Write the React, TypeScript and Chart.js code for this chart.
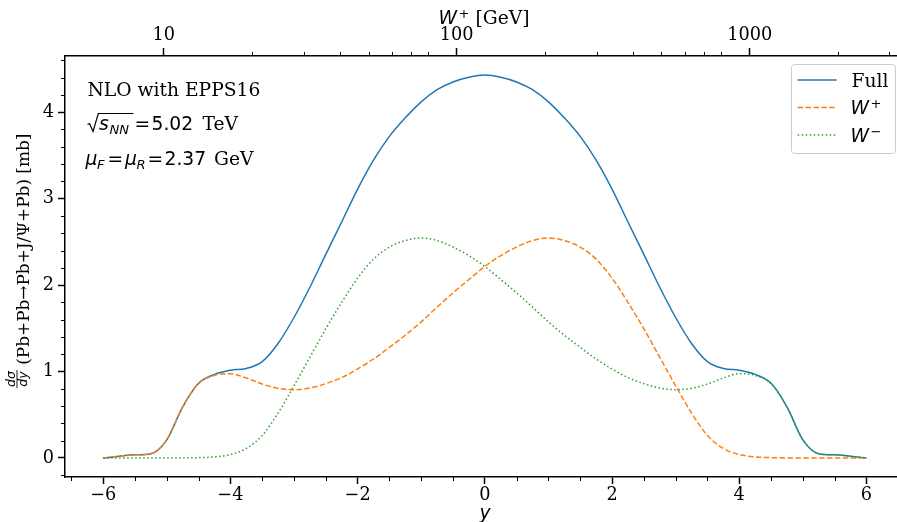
import React, { useEffect, useRef } from "react";
import { Chart, registerables } from "chart.js";

Chart.register(...registerables);

// ---------- data ----------
const rapidity = [
  -6, -5.75, -5.5, -5.25, -5, -4.75, -4.5, -4.25, -4, -3.75, -3.5, -3.25,
  -3, -2.75, -2.5, -2.25, -2, -1.75, -1.5, -1.25, -1, -0.75, -0.5, -0.25,
  0, 0.25, 0.5, 0.75, 1, 1.25, 1.5, 1.75, 2, 2.25, 2.5, 2.75,
  3, 3.25, 3.5, 3.75, 4, 4.25, 4.5, 4.75, 5, 5.25, 5.5, 5.75, 6,
];

const wPlus = [
  0.0, 0.02, 0.037, 0.05, 0.21, 0.59, 0.86, 0.955, 0.975, 0.925, 0.855, 0.805,
  0.79, 0.81, 0.86, 0.93, 1.03, 1.145, 1.28, 1.42, 1.575, 1.745, 1.91, 2.065,
  2.215, 2.34, 2.44, 2.515, 2.545, 2.515, 2.44, 2.3, 2.08, 1.8, 1.495, 1.165,
  0.835, 0.52, 0.26, 0.11, 0.04, 0.012, 0.004, 0.001, 0.0, 0.0, 0.0, 0.0, 0.0,
];

const wMinus = [
  0.0, 0.0, 0.0, 0.0, 0.0, 0.001, 0.004, 0.012, 0.04, 0.11, 0.26, 0.52,
  0.835, 1.165, 1.495, 1.8, 2.08, 2.3, 2.44, 2.515, 2.545, 2.515, 2.44, 2.34,
  2.215, 2.065, 1.91, 1.745, 1.575, 1.42, 1.28, 1.145, 1.03, 0.93, 0.86, 0.81,
  0.79, 0.805, 0.855, 0.925, 0.975, 0.955, 0.86, 0.59, 0.21, 0.05, 0.037, 0.02, 0.0,
];

const full = [
  0.0, 0.02, 0.037, 0.05, 0.21, 0.591, 0.864, 0.967, 1.015, 1.035, 1.115, 1.325,
  1.625, 1.975, 2.355, 2.73, 3.11, 3.445, 3.72, 3.935, 4.12, 4.26, 4.35, 4.405,
  4.43, 4.405, 4.35, 4.26, 4.12, 3.935, 3.72, 3.445, 3.11, 2.73, 2.355, 1.975,
  1.625, 1.325, 1.115, 1.035, 1.015, 0.967, 0.864, 0.591, 0.21, 0.05, 0.037, 0.02, 0.0,
];

const bottomTicks = [-6, -4, -2, 0, 2, 4, 6];
const bottomMinor = [-6.5, -5.5, -5, -4.5, -3.5, -3, -2.5, -1.5, -1, -0.5, 0.5, 1, 1.5, 2.5, 3, 3.5, 4.5, 5, 5.5, 6.5];
const leftTicks = [0, 1, 2, 3, 4];
const leftMinor = [-0.2, 0.2, 0.4, 0.6, 0.8, 1.2, 1.4, 1.6, 1.8, 2.2, 2.4, 2.6, 2.8, 3.2, 3.4, 3.6, 3.8, 4.2, 4.4, 4.6];
const topTicksW = [10, 100, 1000];
const topMinorW = [20, 30, 40, 50, 60, 70, 80, 200, 300, 400, 500, 600, 700, 800, 2000, 3000];

const M_JPSI = 3.097; // GeV
const SQRT_S = 5020; // GeV
const yOfW = (w: number) => Math.log((w * w) / (M_JPSI * SQRT_S));

const C_FULL = "#1f77b4";
const C_WP = "#ff7f0e";
const C_WM = "#2ca02c";
const SERIF = "'DejaVu Serif'";
const SANS = "'DejaVu Sans'";
const FS = 18.7; // annotation / legend / titles
const TFS = 17.7; // tick labels
const SUB = 13.1;

const fmt = (v: number) => (v < 0 ? "\u2212" + Math.abs(v) : String(v));

const decorPlugin = {
  id: "decor",
  afterDraw(chart: any) {
    const ctx: CanvasRenderingContext2D = chart.ctx;
    const xs = chart.scales.x;
    const ys = chart.scales.y;
    const ca = chart.chartArea;
    ctx.save();
    ctx.strokeStyle = "#000";
    ctx.lineWidth = 1;
    // minor ticks
    ctx.beginPath();
    for (const v of bottomMinor) {
      const px = Math.round(xs.getPixelForValue(v)) + 0.5;
      if (px < ca.left - 1) continue;
      ctx.moveTo(px, ca.bottom);
      ctx.lineTo(px, ca.bottom + 4);
    }
    for (const v of leftMinor) {
      const py = Math.round(ys.getPixelForValue(v)) + 0.5;
      ctx.moveTo(ca.left, py);
      ctx.lineTo(ca.left - 4, py);
    }
    for (const w of topMinorW) {
      const px = Math.round(xs.getPixelForValue(yOfW(w))) + 0.5;
      if (px < ca.left) continue;
      ctx.moveTo(px, ca.top);
      ctx.lineTo(px, ca.top - 4);
    }
    ctx.stroke();

    ctx.fillStyle = "#000";
    ctx.textBaseline = "alphabetic";
    ctx.textAlign = "left";

    // annotation block
    ctx.font = `${FS}px ${SERIF}`;
    ctx.fillText("NLO with EPPS16", 87.5, 95.5);

    // sqrt(s_NN) = 5.02 TeV
    ctx.lineWidth = 1.2;
    ctx.beginPath();
    ctx.moveTo(87.5, 124.5);
    ctx.lineTo(89.5, 123.5);
    ctx.lineTo(93, 131.5);
    ctx.lineTo(98.3, 113.5);
    ctx.lineTo(133.5, 113.5);
    ctx.stroke();
    ctx.font = `italic ${FS}px ${SANS}`;
    ctx.fillText("s", 99, 130);
    ctx.font = `italic ${SUB}px ${SANS}`;
    ctx.fillText("NN", 109.5, 133.5);
    ctx.font = `${FS}px ${SANS}`;
    ctx.fillText("=", 134.5, 130);
    ctx.fillText("5.02", 151.5, 130);
    ctx.font = `${FS}px ${SERIF}`;
    ctx.fillText("TeV", 202.5, 130);

    // mu_F = mu_R = 2.37 GeV
    ctx.font = `italic ${FS}px ${SANS}`;
    ctx.fillText("\u03bc", 85.5, 165);
    ctx.fillText("\u03bc", 125, 165);
    ctx.font = `italic ${SUB}px ${SANS}`;
    ctx.fillText("F", 97, 168.5);
    ctx.fillText("R", 136.5, 168.5);
    ctx.font = `${FS}px ${SANS}`;
    ctx.fillText("=", 107.6, 165);
    ctx.fillText("=", 147.6, 165);
    ctx.fillText("2.37", 164.5, 165);
    ctx.font = `${FS}px ${SERIF}`;
    ctx.fillText("GeV", 214, 165);

    // legend
    const lx = 791, ly = 64, lw = 104, lh = 89;
    ctx.beginPath();
    ctx.roundRect(lx + 0.5, ly + 0.5, lw, lh, 3);
    ctx.fillStyle = "rgba(255,255,255,0.8)";
    ctx.fill();
    ctx.strokeStyle = "#cccccc";
    ctx.lineWidth = 1;
    ctx.stroke();
    const rows = [
      { c: C_FULL, dash: [] as number[], y: 80 },
      { c: C_WP, dash: [5.5, 2.4], y: 107.5 },
      { c: C_WM, dash: [1.5, 2.5], y: 135 },
    ];
    ctx.lineWidth = 1.5;
    for (const r of rows) {
      ctx.strokeStyle = r.c;
      ctx.setLineDash(r.dash);
      ctx.beginPath();
      ctx.moveTo(797.7, r.y);
      ctx.lineTo(836.7, r.y);
      ctx.stroke();
    }
    ctx.setLineDash([]);
    ctx.fillStyle = "#000";
    ctx.font = `${FS}px ${SERIF}`;
    ctx.fillText("Full", 851.5, 80 + 6.8);
    for (const [sup, yy] of [["+", 107.5], ["\u2212", 135]] as [string, number][]) {
      ctx.font = `italic ${FS}px ${SANS}`;
      ctx.fillText("W", 850.5, yy + 6.8);
      const ww = ctx.measureText("W").width;
      ctx.font = `${SUB}px ${SANS}`;
      ctx.fillText(sup, 850.5 + ww + 1.5, yy + 0.5);
    }

    // top axis title: W+ [GeV]
    {
      ctx.font = `italic ${FS}px ${SANS}`;
      const w1 = ctx.measureText("W").width;
      ctx.font = `${SUB}px ${SANS}`;
      const w2 = ctx.measureText("+").width;
      ctx.font = `${FS}px ${SERIF}`;
      const w3 = ctx.measureText(" [GeV]").width;
      const total = w1 + 1.5 + w2 + w3;
      const x0 = 484 - total / 2;
      ctx.font = `italic ${FS}px ${SANS}`;
      ctx.fillText("W", x0, 24.3);
      ctx.font = `${SUB}px ${SANS}`;
      ctx.fillText("+", x0 + w1 + 1.5, 18);
      ctx.font = `${FS}px ${SERIF}`;
      ctx.fillText(" [GeV]", x0 + w1 + 1.5 + w2, 24.3);
    }

    // bottom axis title: y
    ctx.font = `italic ${FS}px ${SANS}`;
    ctx.textAlign = "center";
    ctx.fillText("y", 485, 518.5);
    ctx.textAlign = "left";

    // left axis title (rotated)
    ctx.save();
    ctx.translate(0, 388);
    ctx.rotate(-Math.PI / 2);
    const ff = 12.5;
    ctx.font = `italic ${ff}px ${SANS}`;
    const nW = ctx.measureText("d\u03c3").width;
    const dW = ctx.measureText("dy").width;
    const fW = Math.max(nW, dW) + 2;
    ctx.fillText("d\u03c3", (fW - nW) / 2, 14.5);
    ctx.fillText("dy", (fW - dW) / 2, 26.5);
    ctx.lineWidth = 0.9;
    ctx.strokeStyle = "#000";
    ctx.beginPath();
    ctx.moveTo(0, 17);
    ctx.lineTo(fW, 17);
    ctx.stroke();
    ctx.font = `16.9px ${SERIF}`;
    ctx.fillText(" (Pb+Pb\u2192Pb+J/\u03a8+Pb) [mb]", fW, 29);
    ctx.restore();

    ctx.restore();
  },
};

export default function App() {
  const ref = useRef<HTMLCanvasElement | null>(null);
  useEffect(() => {
    document.body.style.margin = "0";
    const canvas = ref.current!;
    const pts = (arr: number[]) => arr.map((v, i) => ({ x: rapidity[i], y: v }));
    const gridCommon = {
      display: true,
      drawOnChartArea: false,
      drawTicks: true,
      tickLength: 7,
      tickWidth: 1.5,
      tickColor: "#000",
    };
    const borderCommon = { display: true, color: "#000", width: 1.5 };
    const tickFont = { family: SERIF, size: TFS };
    const lineCommon = {
      borderWidth: 1.5,
      pointRadius: 0,
      cubicInterpolationMode: "monotone",
      fill: false,
    };
    const chart = new Chart(canvas, {
      type: "line",
      data: {
        datasets: [
          { label: "Full", data: pts(full), borderColor: C_FULL, order: 3, ...lineCommon },
          { label: "W+", data: pts(wPlus), borderColor: C_WP, borderDash: [5.5, 2.4], order: 2, ...lineCommon },
          { label: "W-", data: pts(wMinus), borderColor: C_WM, borderDash: [1.5, 2.5], order: 1, ...lineCommon },
        ],
      },
      options: {
        responsive: false,
        animation: false,
        devicePixelRatio: 1,
        layout: { padding: 0 },
        plugins: { legend: { display: false }, tooltip: { enabled: false } },
        scales: {
          x: {
            type: "linear",
            position: "bottom",
            min: -6.6,
            max: 6.48,
            afterBuildTicks: (s: any) => {
              s.ticks = bottomTicks.map((v) => ({ value: v }));
            },
            afterFit: (s: any) => {
              s.height = 45;
            },
            ticks: {
              callback: (v: any) => fmt(Number(v)),
              font: tickFont,
              color: "#000",
              padding: 1,
              maxRotation: 0,
              autoSkip: false,
            },
            grid: gridCommon,
            border: borderCommon,
          },
          xTop: {
            type: "linear",
            position: "top",
            min: -6.6,
            max: 6.48,
            afterBuildTicks: (s: any) => {
              s.ticks = topTicksW.map((w) => ({ value: yOfW(w) }));
            },
            afterFit: (s: any) => {
              s.height = 56;
            },
            ticks: {
              callback: (v: any, i: number) => String(topTicksW[i]),
              font: tickFont,
              color: "#000",
              padding: 2,
              maxRotation: 0,
              autoSkip: false,
            },
            grid: { ...gridCommon, tickLength: 8 },
            border: borderCommon,
          },
          y: {
            type: "linear",
            position: "left",
            min: -0.22,
            max: 4.65,
            afterBuildTicks: (s: any) => {
              s.ticks = leftTicks.map((v) => ({ value: v }));
            },
            afterFit: (s: any) => {
              s.width = 65;
            },
            ticks: {
              callback: (v: any) => fmt(Number(v)),
              font: tickFont,
              color: "#000",
              padding: 4,
            },
            grid: gridCommon,
            border: borderCommon,
          },
        },
      } as any,
      plugins: [decorPlugin],
    });
    return () => chart.destroy();
  }, []);
  return (
    <canvas
      ref={ref}
      width={897}
      height={522}
      style={{ display: "block", width: 897, height: 522 }}
    />
  );
}
